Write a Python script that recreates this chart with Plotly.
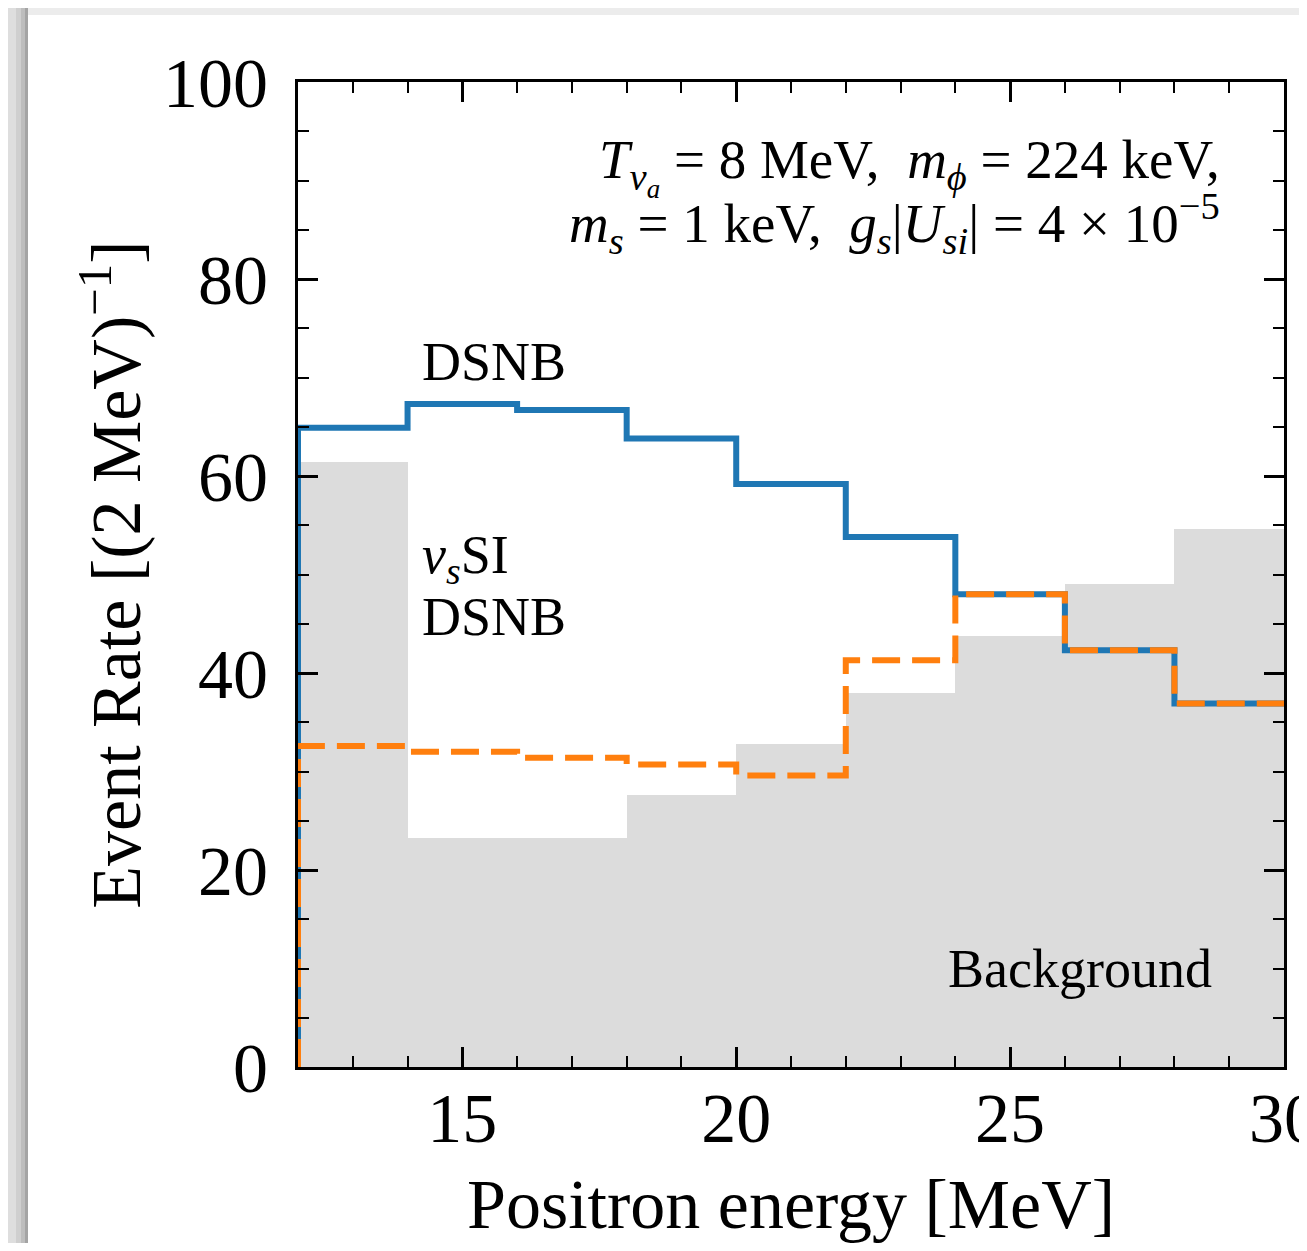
import plotly.graph_objects as go

# ---- data ----
bin_edges = [12, 14, 16, 18, 20, 22, 24, 26, 28, 30]
dsnb = [64.9, 67.3, 66.7, 63.8, 59.2, 53.8, 48.0, 42.3, 36.9]
vs_si_dsnb = [32.6, 32.0, 31.4, 30.7, 29.6, 41.3, 48.0, 42.3, 36.9]
background = [61.4, 23.2, 23.2, 27.6, 32.8, 38.0, 43.8, 49.0, 54.6]
x_ticks = [15, 20, 25, 30]
y_ticks = [0, 20, 40, 60, 80, 100]

BLUE = "#1f77b4"
ORANGE = "#ff7f0e"
GRAY = "#dcdcdc"
FONT = "Liberation Serif"

centers = [(a + b) / 2 for a, b in zip(bin_edges[:-1], bin_edges[1:])]
widths = [b - a for a, b in zip(bin_edges[:-1], bin_edges[1:])]


def step_xy(vals):
    xs = [bin_edges[0]] + bin_edges
    ys = [0] + vals + [vals[-1]]
    return xs, ys


fig = go.Figure()
fig.add_trace(go.Bar(x=centers, y=background, width=widths,
                     marker=dict(color=GRAY, line=dict(width=0)),
                     showlegend=False, hoverinfo="skip"))
bx, by = step_xy(dsnb)
fig.add_trace(go.Scatter(x=bx, y=by, mode="lines", line_shape="hv",
                         line=dict(color=BLUE, width=6), showlegend=False))
ox, oy = step_xy(vs_si_dsnb)
fig.add_trace(go.Scatter(x=ox, y=oy, mode="lines", line_shape="hv",
                         line=dict(color=ORANGE, width=6, dash="28px,12px"),
                         showlegend=False))

# page body has an 8px margin; place the plot area at the reference pixels
OFF = 8
W, H = 1307, 1251 - 2 * OFF
PL, PR, PT, PB = 298, 1284, 82, 1067          # plot area in screen px
L, T = PL - OFF, PT - OFF
R = (OFF + W) - PR
B = (OFF + H) - PB
PW, PH = PR - PL, PB - PT


def sx2p(sx):
    return (sx - PL) / PW


def sy2p(sy):
    return (PB - sy) / PH


# viewer chrome (page shadow on the left, strip at the top)
shapes = [dict(type="rect", xref="paper", yref="paper",
               x0=sx2p(OFF), x1=sx2p(OFF + W), y0=sy2p(15), y1=sy2p(OFF),
               fillcolor="#ececec", line=dict(width=0), layer="below")]
for col, a, b in [("#dedede", 8, 16), ("#cfcfcf", 16, 21), ("#bdbdbd", 21, 25), ("#a4a4a4", 25, 28)]:
    shapes.append(dict(type="rect", xref="paper", yref="paper",
                       x0=sx2p(a), x1=sx2p(b), y0=sy2p(OFF + H), y1=sy2p(OFF),
                       fillcolor=col, line=dict(width=0), layer="below"))

ann = []
tf = dict(family=FONT, size=55, color="black")
ann.append(dict(x=28.86, y=91.4, xref="x", yref="y", xanchor="right", yanchor="middle",
                showarrow=False, font=tf,
                text="<i>T</i><sub><i>ν</i><sub><i>a</i></sub></sub> = 8 MeV,  "
                     "<i>m</i><sub><i>ϕ</i></sub> = 224 keV,"))
ann.append(dict(x=28.86, y=85.6, xref="x", yref="y", xanchor="right", yanchor="middle",
                showarrow=False, font=tf,
                text="<i>m</i><sub><i>s</i></sub> = 1 keV,  "
                     "<i>g</i><sub><i>s</i></sub>|<i>U</i><sub><i>si</i></sub>| = 4 × 10<sup>−5</sup>"))
lf = dict(family=FONT, size=54, color="black")
ann.append(dict(x=14.22, y=71.6, xref="x", yref="y", xanchor="left", yanchor="middle",
                showarrow=False, font=lf, text="DSNB"))
ann.append(dict(x=14.22, y=51.6, xref="x", yref="y", xanchor="left", yanchor="middle",
                showarrow=False, font=lf, text="<i>ν</i><sub><i>s</i></sub>SI"))
ann.append(dict(x=14.22, y=45.7, xref="x", yref="y", xanchor="left", yanchor="middle",
                showarrow=False, font=lf, text="DSNB"))
ann.append(dict(x=28.73, y=10.0, xref="x", yref="y", xanchor="right", yanchor="middle",
                showarrow=False, font=lf, text="Background"))

axis_common = dict(showgrid=False, zeroline=False, showline=True, linecolor="black",
                   linewidth=3, mirror="allticks", ticks="inside", ticklen=20,
                   tickwidth=2.5, tickcolor="black", ticklabeloverflow="allow",
                   tickfont=dict(family=FONT, size=70, color="black"))

fig.update_layout(
    width=W, height=H,
    margin=dict(l=L, r=R, t=T, b=B, autoexpand=False),
    paper_bgcolor="white", plot_bgcolor="white",
    bargap=0, shapes=shapes, annotations=ann,
    xaxis=dict(range=[bin_edges[0], bin_edges[-1]], tickvals=x_ticks,
               ticktext=[str(v) for v in x_ticks],
               minor=dict(dtick=1, ticks="inside", ticklen=11, tickwidth=2, tickcolor="black"),
               ticklabelstandoff=-12,
               title=dict(text="Positron energy [MeV]", standoff=34,
                          font=dict(family=FONT, size=70, color="black")),
               **axis_common),
    yaxis=dict(range=[0, 100], tickvals=y_ticks, ticktext=[str(v) for v in y_ticks],
               minor=dict(dtick=5, ticks="inside", ticklen=11, tickwidth=2, tickcolor="black"),
               ticklabelstandoff=13,
               title=dict(text="Event Rate [(2 MeV)<sup>−1</sup>]", standoff=0,
                          font=dict(family=FONT, size=70, color="black")),
               **axis_common),
)

fig.write_html("out.html")
